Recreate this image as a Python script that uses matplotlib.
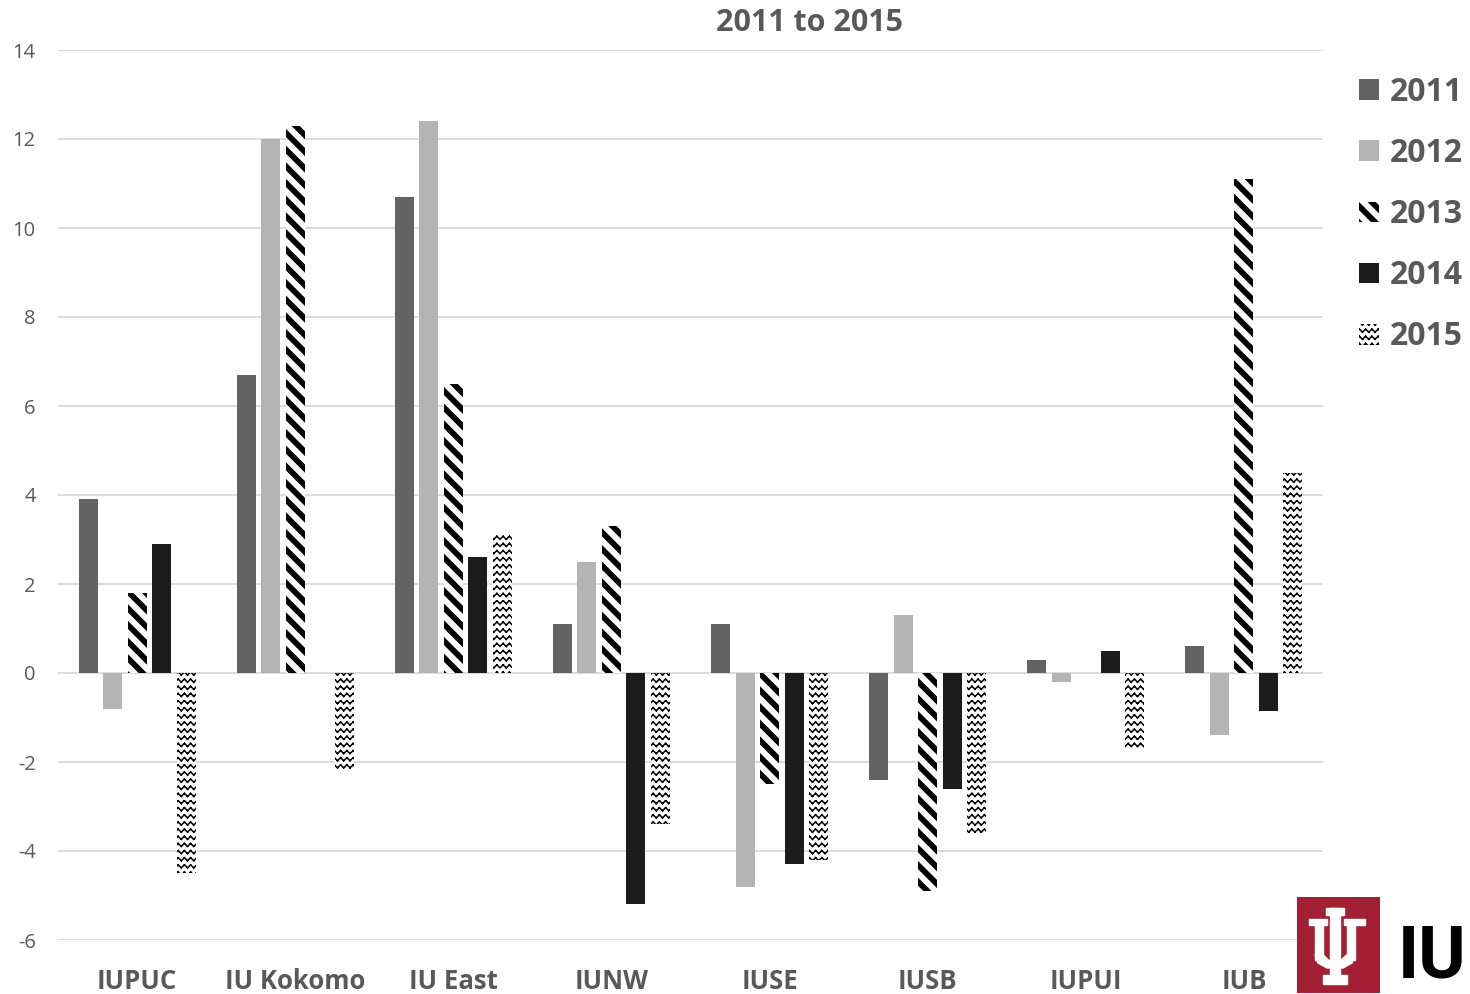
import warnings
import numpy as np
import matplotlib
matplotlib.use("Agg")
import matplotlib.pyplot as plt
import matplotlib.hatch as mhatch
from matplotlib.path import Path
from matplotlib.patches import Rectangle, Polygon

warnings.filterwarnings("ignore")

campuses = ["IUPUC", "IU Kokomo", "IU East", "IUNW", "IUSE", "IUSB", "IUPUI", "IUB"]
years = ["2011", "2012", "2013", "2014", "2015"]
v2011 = [3.9, 6.7, 10.7, 1.1, 1.1, -2.4, 0.3, 0.6]
v2012 = [-0.8, 12.0, 12.4, 2.5, -4.8, 1.3, -0.2, -1.4]
v2013 = [1.8, 12.3, 6.5, 3.3, -2.5, -4.9, 0.0, 11.1]
v2014 = [2.9, 0.0, 2.6, -5.2, -4.3, -2.6, 0.5, -0.85]
v2015 = [-4.5, -2.2, 3.1, -3.4, -4.2, -3.6, -1.7, 4.5]
yticks = [-6, -4, -2, 0, 2, 4, 6, 8, 10, 12, 14]


# wide diagonal stripes ('S'), drawn as filled bands
class WideStripeHatch(mhatch.HatchPatternBase):
    def __init__(self, hatch, density):
        self.n = hatch.count('S') * 6
        self.ks = list(range(-1, 2 * self.n + 1)) if self.n else []
        self.num_vertices = len(self.ks) * 5

    def set_vertices_and_codes(self, vertices, codes):
        t = 0.36 / max(self.n, 1)
        for i, k in enumerate(self.ks):
            c = k / self.n
            pts = [(0, c), (1, c - 1), (1, c - 1 + t), (0, c + t), (0, c)]
            vertices[i * 5:(i + 1) * 5] = pts
            codes[i * 5:(i + 1) * 5] = [Path.MOVETO, Path.LINETO, Path.LINETO,
                                        Path.LINETO, Path.CLOSEPOLY]


# zig zag rows ('z'), drawn as separate segments so nothing gets filled
class ZigZagHatch(mhatch.HatchPatternBase):
    def __init__(self, hatch, density):
        self.rows = hatch.count('z') * 14
        self.periods = 16
        self.nseg = 2 * self.periods
        self.num_vertices = self.rows * self.nseg * 2

    def set_vertices_and_codes(self, vertices, codes):
        xs = np.linspace(0, 1, self.nseg + 1)
        amp = 0.42 / max(self.rows, 1)
        idx = 0
        for i in range(self.rows):
            y0 = i / self.rows + 0.5 / self.rows
            ys = y0 + np.where(np.arange(self.nseg + 1) % 2 == 1, amp, 0.0)
            for s in range(self.nseg):
                vertices[idx] = (xs[s], ys[s])
                vertices[idx + 1] = (xs[s + 1], ys[s + 1])
                codes[idx] = Path.MOVETO
                codes[idx + 1] = Path.LINETO
                idx += 2


mhatch._hatch_types.append(WideStripeHatch)
mhatch._hatch_types.append(ZigZagHatch)

plt.rcParams['font.family'] = ['Open Sans', 'DejaVu Sans']
plt.rcParams['hatch.color'] = 'black'
plt.rcParams['hatch.linewidth'] = 1.1

gray = "#595959"
fig = plt.figure(figsize=(14.7, 9.94), dpi=100)
ax = fig.add_axes([58 / 1470, 54 / 994, 1265 / 1470, 890 / 994])

x = np.arange(len(campuses))
step = 0.155
width = 0.12
series = [v2011, v2012, v2013, v2014, v2015]
styles = [
    dict(color="#636363"),
    dict(color="#b4b4b4"),
    dict(facecolor="white", edgecolor="black", linewidth=0, hatch="S"),
    dict(color="#1c1c1c"),
    dict(facecolor="white", edgecolor="black", linewidth=0, hatch="z"),
]
handles = []
for j, (vals, st) in enumerate(zip(series, styles)):
    bars = ax.bar(x + (j - 2) * step, vals, width, zorder=3, **st)
    handles.append(bars)

ax.set_xlim(-0.5, len(campuses) - 0.5)
ax.set_ylim(-6, 14)
ax.set_yticks(yticks)
ax.set_yticklabels([str(t) for t in yticks])
ax.set_xticks(x)
ax.set_xticklabels(campuses, fontsize=18.5, fontweight="bold", color=gray)
for lbl in ax.get_xticklabels():
    lbl.set_va("baseline")
ax.tick_params(axis="y", length=0, pad=16, labelsize=14.5, labelcolor=gray)
ax.tick_params(axis="x", length=0, pad=35)
ax.grid(axis="y", color="#d9d9d9", linewidth=1.3, zorder=0)
for s in ax.spines.values():
    s.set_visible(False)
ax.set_axisbelow(True)

fig.text(810 / 1470, 1 - 23 / 994, "2011 to 2015", ha="center", va="center",
         fontsize=22, fontweight="bold", color=gray)

leg = fig.legend(handles, years, loc="upper left",
                 bbox_to_anchor=(1343 / 1470, 1 - 60 / 994), frameon=False,
                 prop=dict(size=23, weight="bold"), labelcolor=gray,
                 handlelength=0.62, handleheight=0.62, handletextpad=0.33,
                 labelspacing=0.88, borderpad=0)
for h in leg.legend_handles:
    h.set_linewidth(0)

# IU logo
lax = fig.add_axes([1297 / 1470, 1 / 994, 83 / 1470, 96 / 994])
lax.set_xlim(0, 83)
lax.set_ylim(96, 0)
lax.axis("off")
lax.add_patch(Rectangle((0, 0), 83, 96, color="#a31f34"))
w = "white"
for (x0, y0, ww, hh) in [(32.5, 11, 10.5, 68), (29, 11, 18, 7),
                         (18, 23, 8.3, 40), (11.5, 21.5, 18, 6.5),
                         (49.7, 23, 8.3, 40), (47, 21.5, 20.5, 6.5),
                         (26, 78, 23.5, 8.5)]:
    lax.add_patch(Rectangle((x0, y0), ww, hh, color=w))
lax.add_patch(Polygon([(18, 58), (26.3, 58), (32.5, 64), (43, 64), (49.7, 58),
                       (58, 58), (55, 66), (46, 71), (30, 71), (21, 66)],
                      closed=True, color=w))

fig.text(1398 / 1470, 2 / 994, "IU", ha="left", va="bottom",
         fontsize=52, fontweight="bold", color="black", fontstretch="condensed",
         family=["Liberation Sans Narrow", "Roboto", "DejaVu Sans"])

fig.savefig("out.png", dpi=100)
